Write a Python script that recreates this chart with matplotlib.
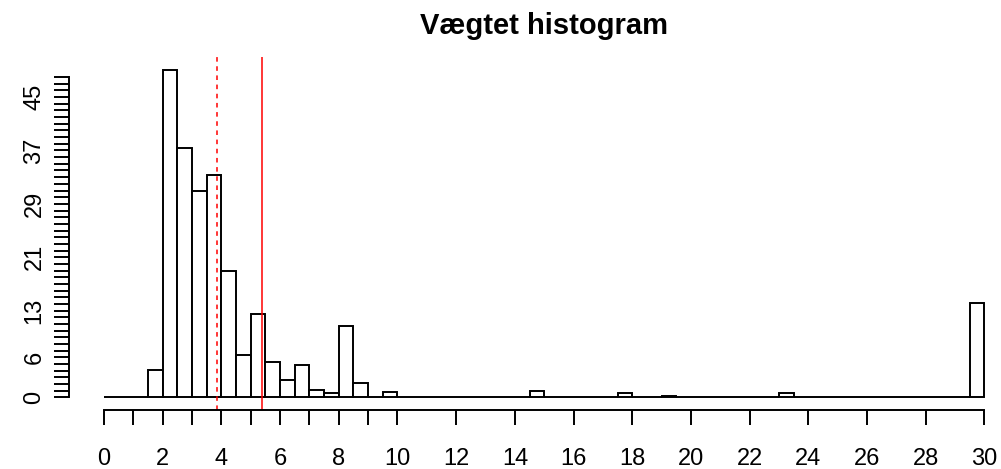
import numpy as np
import matplotlib.pyplot as plt

plt.rcParams['font.family'] = ['Liberation Sans', 'DejaVu Sans']

# weighted histogram, bins of width 0.5 from 0 to 30
bin_left = np.arange(0, 30, 0.5)
heights = [0, 0, 0, 4.1, 49.0, 37.4, 30.9, 33.3, 19.0, 6.4,
           12.5, 5.3, 2.6, 4.8, 1.1, 0.7, 10.7, 2.1, 0, 0.8,
           0, 0, 0, 0, 0, 0, 0, 0, 0, 0.9,
           0, 0, 0, 0, 0, 0.7, 0, 0, 0.25, 0,
           0, 0, 0, 0, 0, 0, 0.7, 0, 0, 0,
           0, 0, 0, 0, 0, 0, 0, 0, 0, 14.1]
median_w = 3.85
mean_w = 5.40

xticks = [0, 1, 2, 3, 4, 5, 6, 7, 8, 9, 10, 12, 14, 16, 18, 20, 22, 24, 26, 28, 30]
xlabels = [str(t) if t % 2 == 0 else '' for t in xticks]
yticks = list(range(0, 49))
ylab_show = [0, 6, 13, 21, 29, 37, 45]
ylabels = [str(t) if t in ylab_show else '' for t in yticks]

fig = plt.figure(figsize=(10.01, 4.69), dpi=100)
ax = fig.add_axes([0.0687, 0.125, 0.950, 0.7527])

lw = 1.4
ax.bar(bin_left, heights, width=0.5, align='edge', facecolor='white',
       edgecolor='black', linewidth=lw)
ax.axvline(median_w, color='red', linestyle=(0, (3, 3)), linewidth=1.1)
ax.axvline(mean_w, color='red', linewidth=1.1)

ax.set_xlim(-1.2, 31.2)
ax.set_ylim(-1.96, 50.96)

for s in ['top', 'right']:
    ax.spines[s].set_visible(False)
ax.spines['left'].set_bounds(0, 48)
ax.spines['bottom'].set_bounds(0, 30)
ax.spines['left'].set_linewidth(lw)
ax.spines['bottom'].set_linewidth(lw)

ax.set_xticks(xticks)
ax.set_xticklabels(xlabels)
ax.set_yticks(yticks)
ax.set_yticklabels(ylabels, rotation=90, va='center')
ax.tick_params(axis='both', direction='out', length=10.8, width=lw, labelsize=17)
ax.tick_params(axis='x', pad=16)
ax.tick_params(axis='y', pad=6)

ax.set_title('Vægtet histogram', fontsize=21, fontweight='bold', pad=16.5)

fig.savefig('out.png', dpi=100)
